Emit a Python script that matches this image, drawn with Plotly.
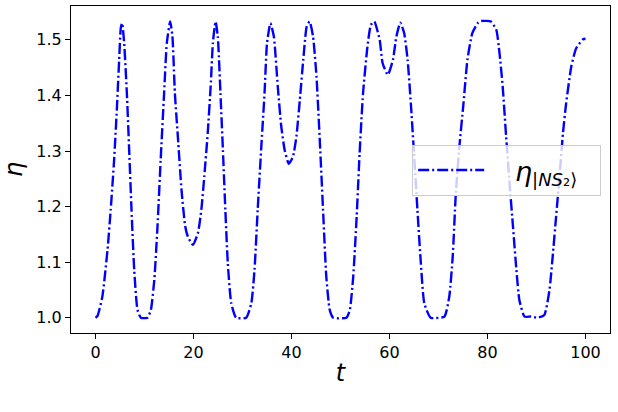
import plotly.graph_objects as go

# time samples and eta values
t = [0, 0.4, 1.4, 2.45, 3.1, 3.8, 4.35, 4.83, 5.17, 5.44, 5.85, 6.4, 6.87, 7.35, 7.9,
     8.57, 9.25, 10.6, 11.3, 12.0, 12.65, 13.3, 14.0, 14.55, 15.24, 15.7, 16.2, 16.9,
     17.55, 18.3, 18.85, 19.86, 20.9, 21.6, 22.2, 22.9, 23.5, 23.95, 24.5, 24.96, 25.5,
     26.0, 26.5, 27.0, 27.7, 28.7, 30.75, 31.8, 32.45, 33.1, 33.8, 34.5, 35.0, 35.7,
     36.4, 37.2, 37.9, 38.6, 39.45, 40.3, 41.0, 41.7, 42.4, 43.1, 43.7, 44.4, 45.1,
     45.8, 46.5, 47.1, 47.8, 48.5, 51.2, 51.9, 52.6, 53.3, 53.9, 54.6, 55.5, 56.2,
     56.9, 58.0, 58.6, 59.65, 60.7, 61.4, 62.2, 63.0, 63.7, 64.35, 65.0, 65.7, 66.4,
     67.1, 68.4, 71.2, 72.2, 72.9, 73.5, 74.2, 75.1, 75.9, 76.9, 78.0, 78.7, 80.7,
     81.8, 82.45, 83.1, 83.8, 84.5, 85.2, 85.9, 86.5, 87.55, 88.9, 90.3, 91.6, 92.65,
     93.3, 94.0, 94.7, 95.4, 96.05, 97.1, 98.1, 99.5, 100]
eta = [1.0, 1.003, 1.038, 1.122, 1.194, 1.284, 1.374, 1.464, 1.522, 1.530, 1.494, 1.404,
       1.302, 1.194, 1.086, 1.014, 1.0, 1.0, 1.014, 1.068, 1.164, 1.284, 1.404, 1.494,
       1.533, 1.506, 1.404, 1.314, 1.23, 1.165, 1.146, 1.131, 1.152, 1.194, 1.254, 1.332,
       1.416, 1.494, 1.533, 1.506, 1.404, 1.302, 1.194, 1.098, 1.026, 1.0, 1.0, 1.026,
       1.086, 1.194, 1.302, 1.404, 1.494, 1.530, 1.506, 1.416, 1.345, 1.302, 1.277,
       1.29, 1.326, 1.392, 1.464, 1.524, 1.533, 1.506, 1.434, 1.314, 1.182, 1.074, 1.014,
       1.0, 1.0, 1.014, 1.074, 1.182, 1.296, 1.404, 1.488, 1.527, 1.533, 1.50, 1.458,
       1.437, 1.464, 1.506, 1.531, 1.512, 1.464, 1.386, 1.296, 1.194, 1.098, 1.026, 1.0,
       1.002, 1.038, 1.11, 1.218, 1.302, 1.386, 1.464, 1.512, 1.530, 1.534, 1.533, 1.518,
       1.476, 1.416, 1.326, 1.242, 1.164, 1.086, 1.032, 1.002, 1.002, 1.0, 1.005, 1.05,
       1.11, 1.182, 1.254, 1.332, 1.386, 1.452, 1.485, 1.501, 1.502]

x_ticks = [0, 20, 40, 60, 80, 100]
y_ticks = [1.0, 1.1, 1.2, 1.3, 1.4, 1.5]

FONT = "DejaVu Sans"

fig = go.Figure()
fig.add_trace(go.Scatter(
    x=t, y=eta, mode="lines",
    line=dict(color="#0000ff", width=2.4, dash="11px,3px,2px,3px", shape="spline", smoothing=0.5),
    name="&nbsp;&nbsp;&nbsp;<i>η</i><sub><span style='font-size:18px'>|<i>NS</i>₂⟩</span></sub>&nbsp;&nbsp;",
))

axis_common = dict(
    showline=True, linecolor="black", linewidth=1, mirror=True,
    ticks="outside", ticklen=5, tickwidth=1, tickcolor="black",
    showgrid=False, zeroline=False,
    tickfont=dict(family=FONT, size=16, color="black"),
)

fig.update_layout(
    width=618, height=412,
    margin=dict(l=71, r=8, t=6, b=79),
    paper_bgcolor="white", plot_bgcolor="white",
    font=dict(family=FONT, color="black"),
    xaxis=dict(range=[-5, 105], tickvals=x_ticks,
               title=dict(text="<i>t</i>", font=dict(family=FONT, size=24), standoff=2),
               **axis_common),
    yaxis=dict(range=[0.9724, 1.561], tickvals=y_ticks, tickformat=".1f",
               title=dict(text="<i>η</i>", font=dict(family=FONT, size=24), standoff=14),
               **axis_common),
    legend=dict(x=0.633, y=0.575, xanchor="left", yanchor="top",
                bgcolor="rgba(255,255,255,0.8)", bordercolor="#cccccc", borderwidth=1,
                font=dict(family=FONT, size=27, color="black"), itemwidth=66),
    showlegend=True,
)

fig.write_html("out.html")
